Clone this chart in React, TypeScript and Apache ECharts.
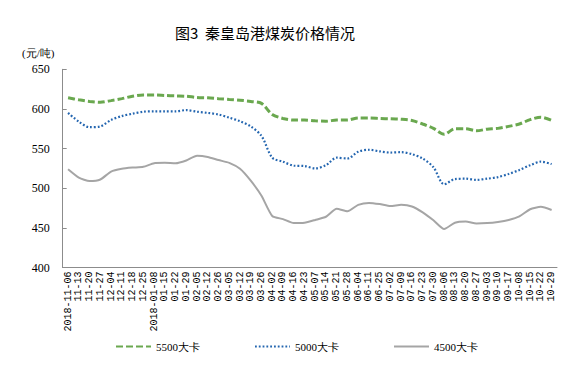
import React, { useEffect, useRef } from "react";
import * as echarts from "echarts";

const categories = [
  "2018-11-06", "11-13", "11-20", "11-27", "12-04", "12-11", "12-18", "12-25",
  "2018-01-08", "01-15", "01-22", "01-29", "02-05", "02-12", "02-26", "03-05",
  "03-12", "03-19", "03-26", "04-02", "04-09", "04-16", "04-23", "05-07",
  "05-14", "05-21", "05-28", "06-04", "06-11", "06-25", "07-02", "07-09",
  "07-16", "07-23", "07-30", "08-06", "08-13", "08-20", "08-27", "09-03",
  "09-10", "09-17", "10-08", "10-15", "10-22", "10-29",
];

const kcal5500 = [
  614, 611.5, 609.5, 608.5, 610.5, 613, 616, 617.5, 617.5, 617, 616.5, 616,
  614.5, 614, 613, 612, 611, 609.5, 607, 593, 588, 586, 586, 585,
  584.5, 586, 586, 588.5, 588.5, 588, 587.5, 587, 585.5, 581, 575.5, 568,
  575, 575, 572.5, 574.5, 575.5, 578, 581, 586.5, 589.5, 585.5,
];

const kcal5000 = [
  595, 584, 577, 578, 586, 591, 594, 596.5, 597, 597, 597, 598.5,
  596.5, 595, 593, 589, 584.5, 578, 566, 538.5, 533.5, 528.5, 528, 525,
  529, 538.5, 537.5, 546, 548.5, 546.5, 545, 545.5, 543, 537.5, 526.5, 505,
  511.5, 512, 510.5, 512, 514, 518, 523, 529, 533.5, 530.5,
];

const kcal4500 = [
  524, 513.5, 509, 511, 521, 524.5, 526, 527, 531.5, 532, 531.5, 535,
  541, 539.5, 535.5, 532, 524.5, 509.5, 490.5, 465, 461, 456, 456.5, 460,
  464, 474, 471, 479, 481.5, 480, 477.5, 479, 477, 469.5, 459.5, 448.5,
  456.5, 458, 455.5, 456, 457.5, 460, 464.5, 473.5, 476.5, 472.5,
];

const seriesNames = ["5500大卡", "5000大卡", "4500大卡"];
const yTicks = { min: 400, max: 650, interval: 50 };

export default function App() {
  const ref = useRef<HTMLDivElement>(null);
  useEffect(() => {
    if (!ref.current) return;
    const chart = echarts.init(ref.current, null, { renderer: "svg" });
    const serif = "Liberation Serif";
    chart.setOption({
      animation: false,
      backgroundColor: "#ffffff",
      title: {
        text: "图3  秦皇岛港煤炭价格情况",
        left: 170,
        top: 20,
        textStyle: {
          fontFamily: "Noto Sans CJK SC",
          fontSize: 15,
          fontWeight: "normal",
          color: "#000",
        },
      },
      graphic: [
        {
          type: "text",
          left: 22,
          top: 47,
          style: {
            text: "(元/吨)",
            fontFamily: serif,
            fontSize: 11,
            fill: "#000",
          },
        },
      ],
      legend: {
        left: 110,
        top: 336,
        itemWidth: 35,
        itemHeight: 12,
        itemGap: 54,
        data: seriesNames,
        itemStyle: { opacity: 0 },
        textStyle: { fontFamily: serif, fontSize: 11, color: "#000" },
      },
      grid: { left: 62.7, right: 22, top: 69.3, bottom: 100.5, containLabel: false },
      xAxis: {
        type: "category",
        data: categories,
        boundaryGap: true,
        axisLine: { lineStyle: { color: "#8c8c8c", width: 1 } },
        axisTick: { inside: true, length: 4, interval: 0, lineStyle: { color: "#8c8c8c" } },
        axisLabel: {
          interval: 0,
          rotate: 90,
          margin: 4,
          fontFamily: "Liberation Mono",
          fontSize: 10,
          color: "#000",
        },
        splitLine: { show: false },
      },
      yAxis: {
        type: "value",
        min: yTicks.min,
        max: yTicks.max,
        interval: yTicks.interval,
        axisLine: { show: true, lineStyle: { color: "#8c8c8c", width: 1 } },
        axisTick: { show: true, inside: true, length: 4, lineStyle: { color: "#8c8c8c" } },
        axisLabel: { margin: 13, fontFamily: serif, fontSize: 12, color: "#000" },
        splitLine: { show: false },
      },
      series: [
        {
          name: seriesNames[0],
          type: "line",
          data: kcal5500,
          symbol: "none",
          smooth: 0.3,
          itemStyle: { color: "#6aa84f" },
          lineStyle: { color: "#6aa84f", width: 3, type: [7, 3] },
        },
        {
          name: seriesNames[1],
          type: "line",
          data: kcal5000,
          symbol: "none",
          smooth: 0.3,
          itemStyle: { color: "#2466b0" },
          lineStyle: { color: "#2466b0", width: 2.2, type: [1.8, 2], cap: "butt" },
        },
        {
          name: seriesNames[2],
          type: "line",
          data: kcal4500,
          symbol: "none",
          smooth: 0.2,
          itemStyle: { color: "#a5a5a5" },
          lineStyle: { color: "#a5a5a5", width: 2 },
        },
      ],
    });
    return () => chart.dispose();
  }, []);
  return <div ref={ref} style={{ width: 579, height: 368, position: "absolute", left: 0, top: 0 }} />;
}
